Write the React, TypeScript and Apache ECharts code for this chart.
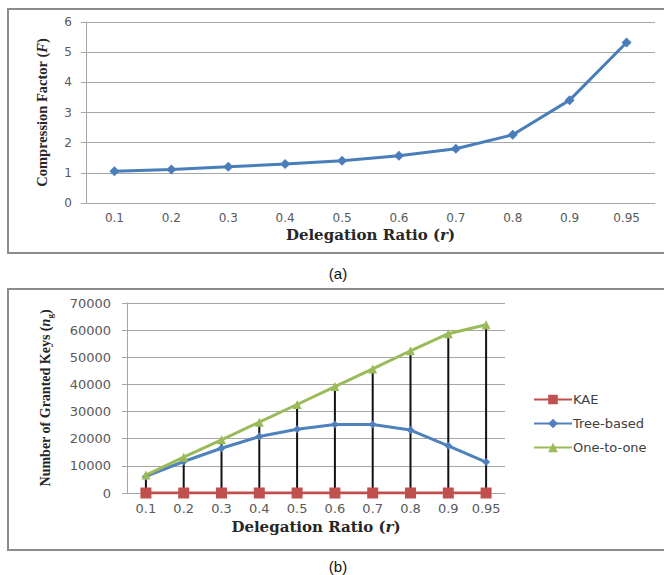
import React, { useEffect, useRef } from "react";
import * as echarts from "echarts";

const categories = ["0.1", "0.2", "0.3", "0.4", "0.5", "0.6", "0.7", "0.8", "0.9", "0.95"];
const compressionFactor = [1.05, 1.11, 1.2, 1.29, 1.4, 1.57, 1.8, 2.26, 3.41, 5.32];
const kaeKeys = [0, 0, 0, 0, 0, 0, 0, 0, 0, 0];
const treeBasedKeys = [6100, 11600, 16500, 20800, 23500, 25200, 25200, 23200, 17400, 11400];
const oneToOneKeys = [6600, 13200, 19600, 26100, 32600, 39200, 45700, 52400, 58700, 62000];

const LABEL_FONT = "DejaVu Sans";
const TITLE_SERIF = "Liberation Serif";
const WIDE_SERIF = "DejaVu Serif";
const GRID_GRAY = "#a6a6a6";
const LABEL_GRAY = "#595959";

export default function App() {
  const ref = useRef<HTMLDivElement>(null);

  useEffect(() => {
    if (!ref.current) return;
    const chart = echarts.init(ref.current, null, { renderer: "svg" });

    const hiLo = categories.map((_, i) => [
      i,
      Math.min(kaeKeys[i], treeBasedKeys[i], oneToOneKeys[i]),
      Math.max(kaeKeys[i], treeBasedKeys[i], oneToOneKeys[i]),
    ]);

    const xTitleStyle = {
      fontFamily: WIDE_SERIF,
      fontWeight: "bold" as const,
      fontSize: 15,
      color: "#262626",
      rich: {
        i: {
          fontFamily: WIDE_SERIF,
          fontWeight: "bold" as const,
          fontStyle: "italic" as const,
          fontSize: 15,
          color: "#262626",
        },
      },
    };

    const yTitleStyle = (size: number) => ({
      fontFamily: TITLE_SERIF,
      fontWeight: "bold" as const,
      fontSize: size,
      lineHeight: Math.round(size * 1.3),
      color: "#262626",
      rich: {
        t: {
          fontFamily: TITLE_SERIF,
          fontWeight: "bold" as const,
          fontSize: size,
          lineHeight: Math.round(size * 1.3),
          color: "#262626",
        },
        i: {
          fontFamily: TITLE_SERIF,
          fontWeight: "bold" as const,
          fontStyle: "italic" as const,
          fontSize: size,
          lineHeight: Math.round(size * 1.3),
          color: "#262626",
        },
        sub: {
          fontFamily: TITLE_SERIF,
          fontWeight: "bold" as const,
          fontSize: Math.round(size * 0.65),
          lineHeight: Math.round(size * 0.65),
          color: "#262626",
          verticalAlign: "bottom" as const,
        },
      },
    });

    const xAxisBase = (gridIndex: number, labelSize: number, margin: number, nameGap: number) => ({
      type: "category" as const,
      gridIndex,
      data: categories,
      boundaryGap: true,
      axisTick: { show: false },
      axisLine: { lineStyle: { color: GRID_GRAY, width: 1 } },
      axisLabel: { color: LABEL_GRAY, fontFamily: LABEL_FONT, fontSize: labelSize, margin },
      name: "Delegation Ratio ({i|r})",
      nameLocation: "middle" as const,
      nameGap,
      nameTextStyle: xTitleStyle,
    });

    const option: any = {
      animation: false,
      backgroundColor: "#ffffff",
      graphic: [
        {
          type: "rect",
          shape: { x: 8, y: 9, width: 700, height: 244 },
          style: { fill: "none", stroke: "#8c8c8c", lineWidth: 2 },
          silent: true,
        },
        {
          type: "rect",
          shape: { x: 8, y: 289, width: 700, height: 261 },
          style: { fill: "none", stroke: "#8c8c8c", lineWidth: 2 },
          silent: true,
        },
        {
          type: "text",
          x: 338,
          y: 273,
          style: {
            text: "(a)",
            fontFamily: "Liberation Sans",
            fontSize: 15,
            fill: "#111",
            align: "center",
            verticalAlign: "middle",
          },
        },
        {
          type: "text",
          x: 338,
          y: 566,
          style: {
            text: "(b)",
            fontFamily: "Liberation Sans",
            fontSize: 15,
            fill: "#111",
            align: "center",
            verticalAlign: "middle",
          },
        },
      ],
      grid: [
        { left: 86, top: 22, width: 569, height: 181 },
        { left: 127, top: 303, width: 378, height: 190 },
      ],
      xAxis: [xAxisBase(0, 12, 9, 24), xAxisBase(1, 13, 9, 26)],
      yAxis: [
        {
          type: "value",
          gridIndex: 0,
          min: 0,
          max: 6,
          interval: 1,
          axisLine: { show: true, lineStyle: { color: GRID_GRAY, width: 1 } },
          axisTick: { show: true, length: 5, lineStyle: { color: GRID_GRAY } },
          splitLine: { lineStyle: { color: GRID_GRAY, width: 1 } },
          axisLabel: { color: LABEL_GRAY, fontFamily: LABEL_FONT, fontSize: 12, margin: 14 },
          name: "{t|Compression Factor (}{i|F}{t|)}",
          nameLocation: "middle",
          nameGap: 35,
          nameTextStyle: yTitleStyle(14.5),
        },
        {
          type: "value",
          gridIndex: 1,
          min: 0,
          max: 70000,
          interval: 10000,
          axisLine: { show: true, lineStyle: { color: GRID_GRAY, width: 1 } },
          axisTick: { show: true, length: 5, lineStyle: { color: GRID_GRAY } },
          splitLine: { lineStyle: { color: GRID_GRAY, width: 1 } },
          axisLabel: {
            color: LABEL_GRAY,
            fontFamily: LABEL_FONT,
            fontSize: 13,
            margin: 16,
            formatter: (v: number) => String(v),
          },
          name: "{t|Number of Granted Keys (}{i|n}{sub|g}{t|)}",
          nameLocation: "middle",
          nameGap: 73,
          nameTextStyle: yTitleStyle(14),
        },
      ],
      legend: {
        orient: "vertical",
        left: 528,
        top: 388,
        itemWidth: 38,
        itemHeight: 12,
        itemGap: 11,
        data: ["KAE", "Tree-based", "One-to-one"],
        textStyle: { fontFamily: LABEL_FONT, fontSize: 13, color: "#404040", padding: [0, 0, 0, -4] },
      },
      series: [
        {
          name: "Compression",
          type: "line",
          xAxisIndex: 0,
          yAxisIndex: 0,
          data: compressionFactor,
          symbol: "diamond",
          symbolSize: 10,
          lineStyle: { color: "#4a7ebb", width: 3 },
          itemStyle: { color: "#4a7ebb" },
        },
        {
          name: "HiLo",
          type: "custom",
          xAxisIndex: 1,
          yAxisIndex: 1,
          data: hiLo,
          z: 1,
          renderItem: (_params: any, api: any) => {
            const low = api.coord([api.value(0), api.value(1)]);
            const high = api.coord([api.value(0), api.value(2)]);
            return {
              type: "line",
              shape: { x1: low[0], y1: low[1], x2: high[0], y2: high[1] },
              style: { stroke: "#111111", lineWidth: 2 },
            };
          },
        },
        {
          name: "KAE",
          type: "line",
          xAxisIndex: 1,
          yAxisIndex: 1,
          data: kaeKeys,
          symbol: "rect",
          symbolSize: 11,
          z: 4,
          lineStyle: { color: "#c0504d", width: 3 },
          itemStyle: { color: "#c0504d" },
        },
        {
          name: "Tree-based",
          type: "line",
          xAxisIndex: 1,
          yAxisIndex: 1,
          data: treeBasedKeys,
          symbol: "diamond",
          symbolSize: 8,
          z: 3,
          lineStyle: { color: "#4f81bd", width: 3 },
          itemStyle: { color: "#4f81bd" },
        },
        {
          name: "One-to-one",
          type: "line",
          xAxisIndex: 1,
          yAxisIndex: 1,
          data: oneToOneKeys,
          symbol: "triangle",
          symbolSize: 9,
          z: 3,
          lineStyle: { color: "#9bbb59", width: 3 },
          itemStyle: { color: "#9bbb59" },
        },
      ],
    };

    chart.setOption(option);
    return () => chart.dispose();
  }, []);

  return (
    <div
      ref={ref}
      style={{ position: "fixed", left: 0, top: 0, width: 664, height: 575, background: "#fff" }}
    />
  );
}
